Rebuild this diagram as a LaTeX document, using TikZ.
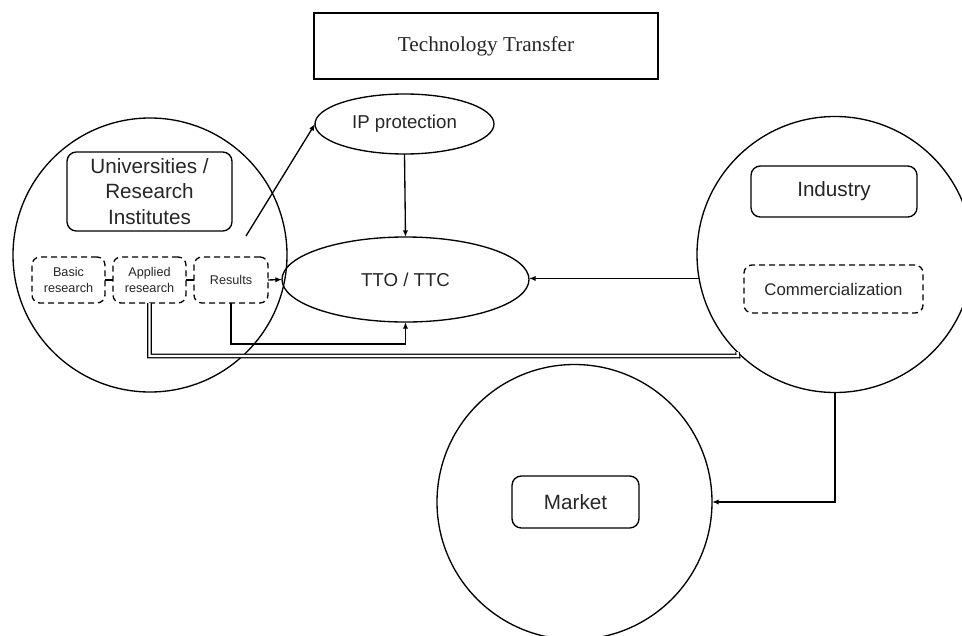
\documentclass[tikz,border=0pt]{standalone}
\usepackage{fontspec}
\setmainfont{Liberation Sans}
\newfontfamily\titlefont{Liberation Serif}
\usetikzlibrary{shapes.geometric,arrows.meta}
\begin{document}
\begin{tikzpicture}[x=0.75pt,y=-0.75pt,
  every node/.style={inner sep=0pt,outer sep=0pt,align=center,text=black!85},
  bigcirc/.style={circle,draw,line width=1pt},
  rbox/.style={draw,rounded corners=7pt,line width=1pt},
  dbox/.style={draw,dashed,dash pattern=on 4.5pt off 3pt,rounded corners=6pt,line width=1pt,minimum height=34.5pt},
  oval/.style={ellipse,draw,line width=1pt},
  link/.style={line width=1pt},
  arr/.style={line width=1pt,-{Latex[length=5pt,width=4pt]}},
  dbl/.style={double,double distance=1.8pt,line width=0.8pt},
  lab/.style={font=\fontsize{15.5}{19}\selectfont},
  small/.style={font=\fontsize{9.5}{12}\selectfont}
]
\useasboundingbox (0,0) rectangle (962,635);
\clip (0,0) rectangle (962,635);

% title
\node[draw,line width=1.5pt,minimum width=258pt,minimum height=49.5pt,
      font=\titlefont\fontsize{15.9}{19}\selectfont] (title) at (486,46) {Technology Transfer};

% universities
\node[bigcirc,minimum size=205.5pt] (uni) at (150,255) {};
\node[rbox,lab,minimum width=123.75pt,minimum height=59.25pt] (unibox) at (149.5,191.5)
  {Universities /\\Research\\Institutes};
\node[dbox,small,minimum width=54.75pt] (basic) at (68.5,280) {Basic\\research};
\node[dbox,small,minimum width=54.75pt] (applied) at (149.5,280) {Applied\\research};
\node[dbox,small,minimum width=55.5pt] (results) at (231,280) {Results};

% IP and TTO
\node[oval,minimum width=134.25pt,minimum height=45pt,font=\fontsize{14}{17}\selectfont] (ip) at (404.5,124) {IP protection};
\node[oval,minimum width=185.25pt,minimum height=63.75pt,font=\fontsize{14}{17}\selectfont] (tto) at (405.5,279.5) {TTO / TTC};

% industry
\node[bigcirc,minimum size=207pt] (ind) at (835,254.5) {};
\node[rbox,lab,minimum width=124.5pt,minimum height=38.25pt] (indbox) at (834,191.5) {Industry};
\node[dbox,font=\fontsize{12.6}{15}\selectfont,minimum width=134.25pt,minimum height=36pt] (comm) at (833.5,289) {Commercialization};

% market
\node[bigcirc,minimum size=206.25pt] (mkt) at (574.5,502) {};
\node[rbox,lab,minimum width=95.25pt,minimum height=39pt] (mktbox) at (575.5,502) {Market};

% connectors
\coordinate (ipstart) at (246,236);
\draw[link] (basic.east) -- (applied.west);
\draw[link] (applied.east) -- (results.west);
\draw[arr] (results.east) -- (tto.west);
\draw[arr] (results.south) -- ++(0,41) -| (tto.south);
\draw[arr] (ipstart) -- (ip.west);
\draw[arr] (ip.south) -- (tto.north);
\draw[arr] (ind.190) -- (ind.190 -| tto.east);
\draw[dbl] (applied.south) -- ++(0,53) -- ++(588.5,0) -- (ind.225);
\draw[arr] (ind.south) |- (mkt.east);
\end{tikzpicture}
\end{document}
